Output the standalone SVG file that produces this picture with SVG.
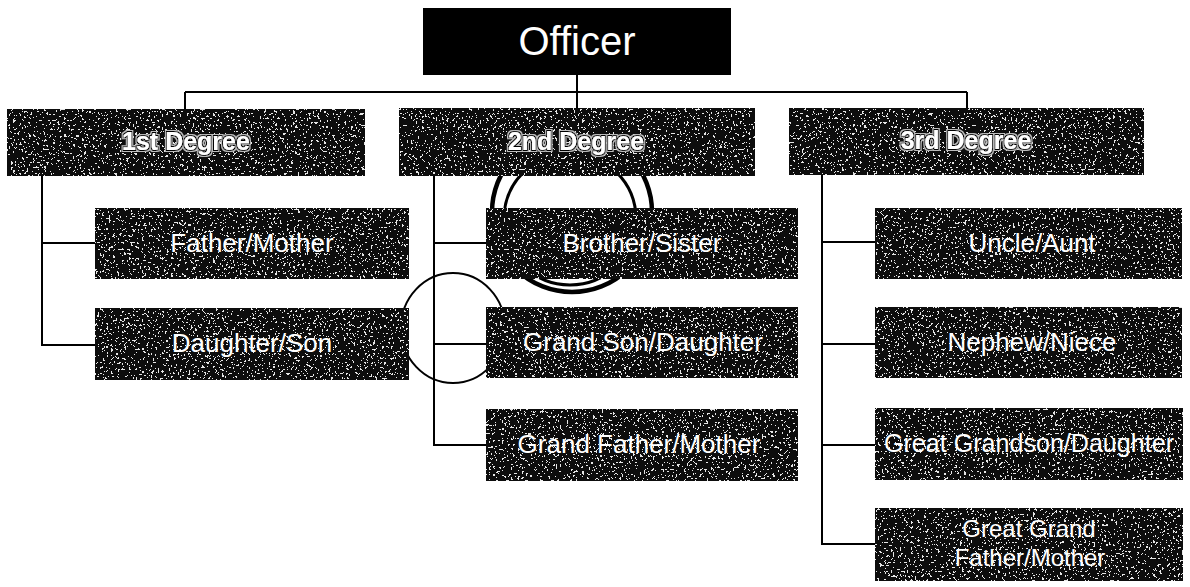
<svg xmlns="http://www.w3.org/2000/svg" width="1190" height="587" viewBox="0 0 1190 587">
  <style>
    .box { fill: #0d0d0d; filter: url(#grain); }
    .plain { fill: #000; }
    .lbl { font-family: "Liberation Sans", Arial, sans-serif; font-size: 26px; fill: #fff; text-anchor: middle; }
    .lbl2 { font-family: "Liberation Sans", Arial, sans-serif; font-size: 24px; fill: #fff; text-anchor: middle; }
    .deg { font-family: "Liberation Sans", Arial, sans-serif; font-size: 25px; font-weight: bold; fill: #fff; text-anchor: middle; filter: url(#halo); }
    .top { font-family: "Liberation Sans", Arial, sans-serif; font-size: 40px; fill: #fff; text-anchor: middle; }
    .wire { fill: none; stroke: #000; stroke-width: 2; }
    .ring { fill: none; stroke: #000; }
  </style>
  <defs>
    <filter id="grain" x="0%" y="0%" width="100%" height="100%">
      <feTurbulence type="fractalNoise" baseFrequency="0.45" numOctaves="2" seed="7" result="n"/>
      <feColorMatrix in="n" type="matrix" values="0 0 0 0 0.8  0 0 0 0 0.8  0 0 0 0 0.8  7 0 0 0 -4.0" result="a"/>
      <feComponentTransfer in="a" result="c">
        <feFuncA type="discrete" tableValues="0 1"/>
      </feComponentTransfer>
      <feComposite in="c" in2="SourceGraphic" operator="in" result="s"/>
      <feMerge>
        <feMergeNode in="SourceGraphic"/>
        <feMergeNode in="s"/>
      </feMerge>
    </filter>
    <filter id="halo" x="-10%" y="-40%" width="120%" height="180%">
      <feMorphology in="SourceAlpha" operator="dilate" radius="2.2" result="d3"/>
      <feFlood flood-color="#bdbdbd" result="fw"/>
      <feComposite in="fw" in2="d3" operator="in" result="w"/>
      <feMorphology in="SourceAlpha" operator="dilate" radius="1" result="d1"/>
      <feFlood flood-color="#000" result="fb"/>
      <feComposite in="fb" in2="d1" operator="in" result="b"/>
      <feMerge>
        <feMergeNode in="w"/>
        <feMergeNode in="b"/>
        <feMergeNode in="SourceGraphic"/>
      </feMerge>
    </filter>
  </defs>
  <rect x="0" y="0" width="1190" height="587" fill="#fff"/>

  <g id="annotations">
    <circle class="ring" cx="572" cy="212" r="80" stroke-width="4.5"/>
    <circle class="ring" cx="570" cy="219" r="66" stroke-width="3"/>
    <ellipse class="ring" cx="453" cy="328" rx="52" ry="55" stroke-width="2"/>
  </g>

  <g id="connectors">
    <path class="wire" d="M577 75 V108"/>
    <path class="wire" d="M185 92 H967"/>
    <path class="wire" d="M185 92 V109"/>
    <path class="wire" d="M967 92 V108"/>
    <path class="wire" d="M42 176 V345 H95"/>
    <path class="wire" d="M42 243 H95"/>
    <path class="wire" d="M434 176 V445 H486"/>
    <path class="wire" d="M434 243 H486"/>
    <path class="wire" d="M434 344 H486"/>
    <path class="wire" d="M822 175 V544 H875"/>
    <path class="wire" d="M822 242 H875"/>
    <path class="wire" d="M822 344 H875"/>
    <path class="wire" d="M822 445 H875"/>
  </g>

  <g id="officer">
    <rect class="plain" x="423" y="8" width="308" height="67"/>
    <text class="top" x="577" y="55">Officer</text>
  </g>

  <g id="deg1">
    <rect class="box" x="7" y="109" width="358" height="67"/>
    <text class="deg" x="186" y="150">1st Degree</text>
  </g>
  <g id="deg2">
    <rect class="box" x="399" y="108" width="356" height="68"/>
    <text class="deg" x="576" y="150">2nd Degree</text>
  </g>
  <g id="deg3">
    <rect class="box" x="789" y="108" width="355" height="67"/>
    <text class="deg" x="966" y="149">3rd Degree</text>
  </g>

  <g id="father-mother">
    <rect class="box" x="95" y="208" width="314" height="71"/>
    <text class="lbl" x="252" y="252">Father/Mother</text>
  </g>
  <g id="daughter-son">
    <rect class="box" x="95" y="308" width="314" height="72"/>
    <text class="lbl" x="252" y="352">Daughter/Son</text>
  </g>

  <g id="brother-sister">
    <rect class="box" x="486" y="208" width="312" height="71"/>
    <text class="lbl" x="642" y="252">Brother/Sister</text>
  </g>
  <g id="grandson-daughter">
    <rect class="box" x="486" y="307" width="312" height="71"/>
    <text class="lbl" x="643" y="351">Grand Son/Daughter</text>
  </g>
  <g id="grandfather-mother">
    <rect class="box" x="486" y="409" width="312" height="72"/>
    <text class="lbl" x="639" y="453">Grand Father/Mother</text>
  </g>

  <g id="uncle-aunt">
    <rect class="box" x="875" y="208" width="307" height="71"/>
    <text class="lbl" x="1032" y="252">Uncle/Aunt</text>
  </g>
  <g id="nephew-niece">
    <rect class="box" x="875" y="307" width="307" height="71"/>
    <text class="lbl" x="1032" y="351">Nephew/Niece</text>
  </g>
  <g id="great-grandson-daughter">
    <rect class="box" x="875" y="408" width="308" height="72"/>
    <text class="lbl" x="1029" y="452" textLength="290" lengthAdjust="spacingAndGlyphs">Great Grandson/Daughter</text>
  </g>
  <g id="great-grandfather-mother">
    <rect class="box" x="875" y="508" width="308" height="73"/>
    <text class="lbl2" x="1029" y="537">Great Grand</text>
    <text class="lbl2" x="1030" y="566">Father/Mother</text>
  </g>
</svg>
